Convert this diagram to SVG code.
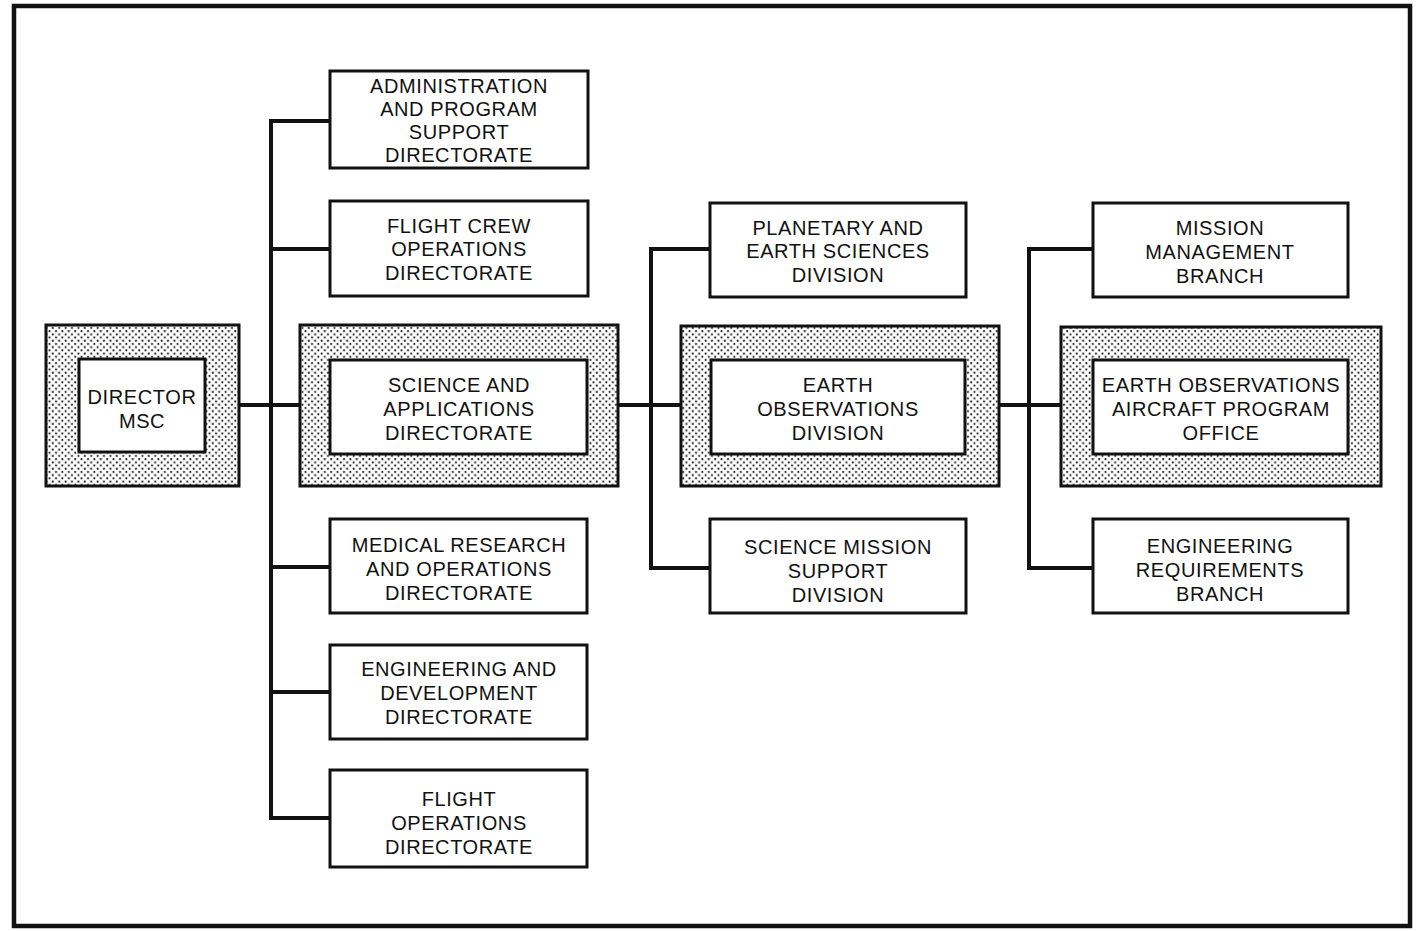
<svg xmlns="http://www.w3.org/2000/svg" width="1418" height="931" viewBox="0 0 1418 931">
  <defs>
    <!-- stippled screen used for the highlighted chain of offices -->
    <pattern id="stipple" width="6.4" height="6.4" patternUnits="userSpaceOnUse">
      <rect width="6.4" height="6.4" fill="#ffffff"/>
      <circle cx="1.6" cy="1.6" r="1.05" fill="#1a1a1a"/>
      <circle cx="4.8" cy="4.8" r="1.05" fill="#1a1a1a"/>
    </pattern>
  </defs>
  <style>
    .frame { fill: none; stroke: #111; stroke-width: 4.5; }
    .box { fill: #fff; stroke: #111; stroke-width: 3; }
    .shade { fill: url(#stipple); stroke: #111; stroke-width: 3; }
    .link { fill: none; stroke: #111; stroke-width: 4; stroke-linejoin: miter; stroke-linecap: square; }
    text { font-family: "Liberation Sans", Arial, sans-serif; font-size: 20px; letter-spacing: 0.6px; fill: #111; text-anchor: middle; }
  </style>

  <rect width="1418" height="931" fill="#ffffff"/>
  <rect class="frame" x="14" y="6" width="1396" height="920"/>

  <!-- connectors -->
  <g id="connectors">
    <path class="link" d="M239 405 H300"/>
    <path class="link" d="M330 121 H271 V818 H330"/>
    <path class="link" d="M271 249 H330"/>
    <path class="link" d="M271 567 H330"/>
    <path class="link" d="M271 692 H330"/>
    <path class="link" d="M618 405 H681"/>
    <path class="link" d="M710 249 H651 V568 H710"/>
    <path class="link" d="M999 405 H1061"/>
    <path class="link" d="M1093 249 H1029 V568 H1093"/>
  </g>

  <g id="director">
    <rect class="shade" x="46" y="325" width="193" height="161"/>
    <rect class="box" x="79" y="359" width="126" height="93"/>
    <text x="142" y="404">DIRECTOR</text>
    <text x="142" y="428">MSC</text>
  </g>

  <g id="admin-program-support">
    <rect class="box" x="330" y="71" width="258" height="97"/>
    <text x="459" y="93">ADMINISTRATION</text>
    <text x="459" y="116">AND PROGRAM</text>
    <text x="459" y="139">SUPPORT</text>
    <text x="459" y="162">DIRECTORATE</text>
  </g>

  <g id="flight-crew-operations">
    <rect class="box" x="330" y="201" width="258" height="95"/>
    <text x="459" y="233">FLIGHT CREW</text>
    <text x="459" y="256">OPERATIONS</text>
    <text x="459" y="280">DIRECTORATE</text>
  </g>

  <g id="science-applications">
    <rect class="shade" x="300" y="325" width="318" height="161"/>
    <rect class="box" x="330" y="360" width="257" height="94"/>
    <text x="459" y="392">SCIENCE AND</text>
    <text x="459" y="416">APPLICATIONS</text>
    <text x="459" y="440">DIRECTORATE</text>
  </g>

  <g id="medical-research-operations">
    <rect class="box" x="330" y="519" width="257" height="94"/>
    <text x="459" y="552">MEDICAL RESEARCH</text>
    <text x="459" y="576">AND OPERATIONS</text>
    <text x="459" y="600">DIRECTORATE</text>
  </g>

  <g id="engineering-development">
    <rect class="box" x="330" y="645" width="257" height="94"/>
    <text x="459" y="676">ENGINEERING AND</text>
    <text x="459" y="700">DEVELOPMENT</text>
    <text x="459" y="724">DIRECTORATE</text>
  </g>

  <g id="flight-operations">
    <rect class="box" x="330" y="770" width="257" height="97"/>
    <text x="459" y="806">FLIGHT</text>
    <text x="459" y="830">OPERATIONS</text>
    <text x="459" y="854">DIRECTORATE</text>
  </g>

  <g id="planetary-earth-sciences">
    <rect class="box" x="710" y="203" width="256" height="94"/>
    <text x="838" y="235">PLANETARY AND</text>
    <text x="838" y="258">EARTH SCIENCES</text>
    <text x="838" y="282">DIVISION</text>
  </g>

  <g id="earth-observations-division">
    <rect class="shade" x="681" y="326" width="318" height="160"/>
    <rect class="box" x="711" y="360" width="254" height="94"/>
    <text x="838" y="392">EARTH</text>
    <text x="838" y="416">OBSERVATIONS</text>
    <text x="838" y="440">DIVISION</text>
  </g>

  <g id="science-mission-support">
    <rect class="box" x="710" y="519" width="256" height="94"/>
    <text x="838" y="554">SCIENCE MISSION</text>
    <text x="838" y="578">SUPPORT</text>
    <text x="838" y="602">DIVISION</text>
  </g>

  <g id="mission-management">
    <rect class="box" x="1093" y="203" width="255" height="94"/>
    <text x="1220" y="235">MISSION</text>
    <text x="1220" y="259">MANAGEMENT</text>
    <text x="1220" y="283">BRANCH</text>
  </g>

  <g id="aircraft-program-office">
    <rect class="shade" x="1061" y="327" width="320" height="159"/>
    <rect class="box" x="1093" y="360" width="255" height="94"/>
    <text x="1221" y="392">EARTH OBSERVATIONS</text>
    <text x="1221" y="416">AIRCRAFT PROGRAM</text>
    <text x="1221" y="440">OFFICE</text>
  </g>

  <g id="engineering-requirements">
    <rect class="box" x="1093" y="519" width="255" height="94"/>
    <text x="1220" y="553">ENGINEERING</text>
    <text x="1220" y="577">REQUIREMENTS</text>
    <text x="1220" y="601">BRANCH</text>
  </g>
</svg>
